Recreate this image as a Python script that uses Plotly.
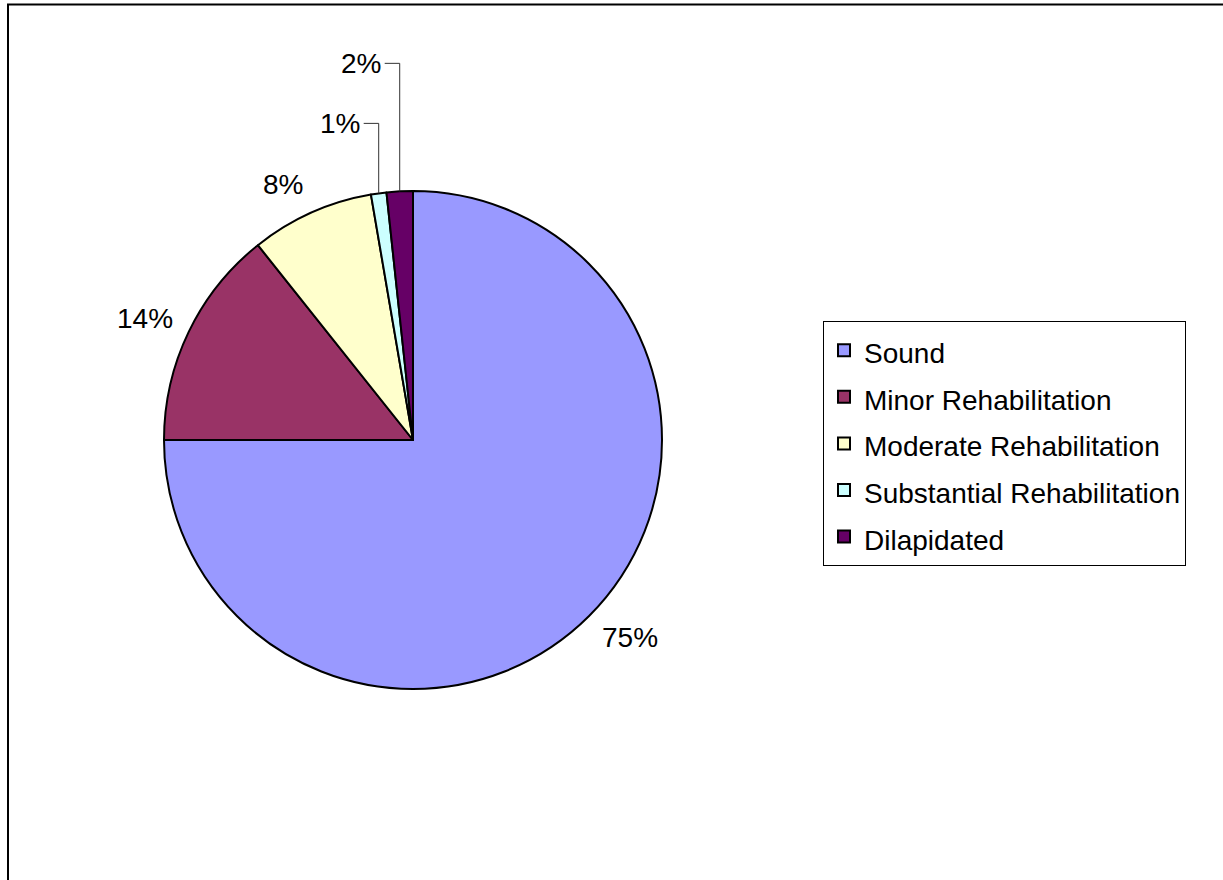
import math
import plotly.graph_objects as go

# ---- data ----
categories = ["Sound", "Minor Rehabilitation", "Moderate Rehabilitation",
              "Substantial Rehabilitation", "Dilapidated"]
values = [75.0, 14.3, 8.0, 1.0, 1.7]
colors = ["#9999FF", "#993366", "#FFFFCC", "#CCFFFF", "#660066"]
pct_labels = ["75%", "14%", "8%", "1%", "2%"]

# ---- layout constants ----
W, H = 1223, 880
CX, CY, R = 413, 440, 249          # pie centre / radius in pixels
GAP = 15                           # label gap from rim
VOFF = 16                          # extra vertical offset for label centre
LEADER_UP = {3: 70, 4: 128}        # leader-line rise (px) for tiny slices
LEADER_LEFT = 15
FONT = "Arial, Liberation Sans, sans-serif"

fig = go.Figure(go.Pie(
    labels=[f"<span style='font-size:28px'>{c}</span>" for c in categories],
    values=values,
    sort=False,
    direction="clockwise",
    rotation=0,
    textinfo="none",
    hoverinfo="label+percent",
    marker=dict(colors=colors, line=dict(color="black", width=2)),
    domain=dict(x=[(CX - R) / W, (CX + R) / W], y=[(H - CY - R) / H, (H - CY + R) / H]),
))

def to_paper(px, py):
    return px / W, 1 - py / H

annotations = []
shapes = []
total = sum(values)
cum = 0.0
for i, v in enumerate(values):
    mid = (cum + v / 2) / total * 360.0
    cum += v
    th = math.radians(mid)
    sx, sy = math.sin(th), -math.cos(th)
    rx, ry = CX + R * sx, CY + R * sy
    if i in LEADER_UP:
        ty = ry - LEADER_UP[i]
        tx = rx - LEADER_LEFT
        x0, y0 = to_paper(rx, ry)
        x1, y1 = to_paper(rx, ty)
        x2, y2 = to_paper(tx, ty)
        shapes.append(dict(type="path", xref="paper", yref="paper",
                           path=f"M {x0} {y0} L {x1} {y1} L {x2} {y2}",
                           line=dict(color="#333333", width=1)))
        ax, ay = to_paper(tx - 2, ty)
        annotations.append(dict(x=ax, y=ay, xref="paper", yref="paper", text=pct_labels[i],
                                showarrow=False, xanchor="right", yanchor="middle",
                                font=dict(size=28, color="black", family=FONT)))
    else:
        px = rx + GAP * sx
        py = ry + (GAP + VOFF) * sy
        ax, ay = to_paper(px, py)
        annotations.append(dict(x=ax, y=ay, xref="paper", yref="paper", text=pct_labels[i],
                                showarrow=False, xanchor="left" if sx > 0 else "right",
                                yanchor="middle",
                                font=dict(size=28, color="black", family=FONT)))

# outer chart frame
shapes.append(dict(type="rect", xref="paper", yref="paper",
                   x0=8 / W, x1=1.01, y0=-0.01, y1=1 - 4.5 / H,
                   line=dict(color="black", width=2)))

fig.update_layout(
    width=W, height=H,
    margin=dict(l=0, r=0, t=0, b=0),
    paper_bgcolor="white",
    plot_bgcolor="white",
    font=dict(family=FONT, color="black"),
    showlegend=True,
    legend=dict(
        x=823 / W, xanchor="left",
        y=1 - 443.5 / H, yanchor="middle",
        bordercolor="black", borderwidth=1,
        bgcolor="white",
        font=dict(size=33.5, family=FONT, color="black"),
        traceorder="normal",
    ),
    annotations=annotations,
    shapes=shapes,
)

fig.write_html("out.html",
               config={"displayModeBar": False},
               post_script="document.body.style.margin='0px';document.body.style.overflow='hidden';")
